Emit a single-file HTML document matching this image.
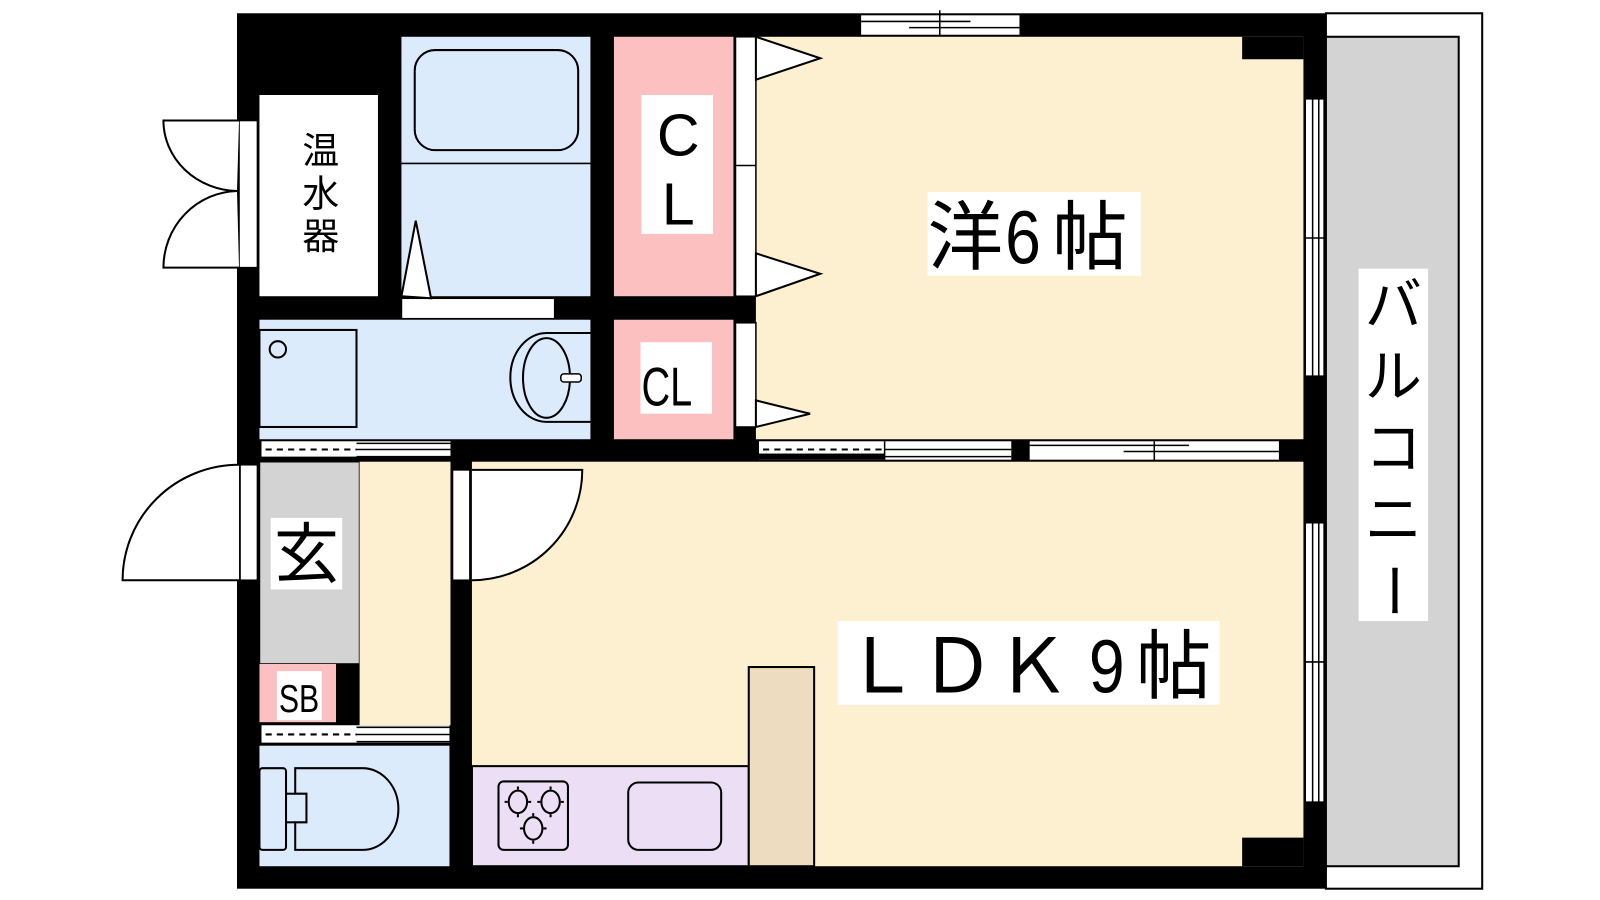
<!DOCTYPE html>
<html><head><meta charset="utf-8"><style>
html,body{margin:0;padding:0;background:#fff;}
svg{display:block;}
text{font-family:"Liberation Sans","Noto Sans CJK JP",sans-serif;}
.jp{font-family:"Noto Sans CJK JP","Liberation Sans",sans-serif;}
</style></head><body>
<svg width="1600" height="900" viewBox="0 0 1600 900" xmlns="http://www.w3.org/2000/svg">
<rect width="1600" height="900" fill="#fff"/>
<g transform="scale(1.0215)">
<!-- balcony -->
<rect x="1298" y="13" width="153" height="857" fill="#fff" stroke="#000" stroke-width="2"/>
<rect x="1298" y="36" width="130" height="812" fill="#d3d3d3" stroke="#000" stroke-width="2"/>
<rect x="1330" y="263" width="68" height="345" fill="#fff"/>
<text class="jp" font-size="56" text-anchor="middle" x="1364" y="318">バ</text>
<text class="jp" font-size="56" text-anchor="middle" x="1364" y="388">ル</text>
<text class="jp" font-size="56" text-anchor="middle" x="1364" y="458">コ</text>
<text class="jp" font-size="56" text-anchor="middle" x="1364" y="528">ニ</text>
<text class="jp" font-size="56" text-anchor="middle" x="1364" y="598" transform="rotate(90 1364 578)">ー</text>

<!-- outer walls -->
<rect x="232" y="13" width="1066" height="857" fill="#000"/>

<!-- top window -->
<rect x="843" y="15" width="155" height="19" fill="#fff"/>
<line x1="843" y1="21" x2="950" y2="21" stroke="#000" stroke-width="1.5"/>
<line x1="890" y1="27" x2="998" y2="27" stroke="#000" stroke-width="1.5"/>
<line x1="920" y1="10" x2="920" y2="45" stroke="#000" stroke-width="1.5"/>

<!-- right wall windows -->
<rect x="1278" y="97" width="18" height="271" fill="#fff" stroke="#000" stroke-width="1"/>
<line x1="1285" y1="97" x2="1285" y2="368" stroke="#000" stroke-width="1.5"/>
<line x1="1291" y1="97" x2="1291" y2="368" stroke="#000" stroke-width="1.5"/>
<line x1="1278" y1="233" x2="1298" y2="233" stroke="#000" stroke-width="1.5"/>
<rect x="1278" y="512" width="18" height="273" fill="#fff" stroke="#000" stroke-width="1"/>
<line x1="1285" y1="512" x2="1285" y2="785" stroke="#000" stroke-width="1.5"/>
<line x1="1291" y1="512" x2="1291" y2="785" stroke="#000" stroke-width="1.5"/>
<line x1="1278" y1="648" x2="1298" y2="648" stroke="#000" stroke-width="1.5"/>

<!-- 洋室 -->
<rect x="740" y="36" width="536" height="394" fill="#fdf0d0"/>
<rect x="1216" y="36" width="60" height="22" fill="#000"/>
<rect x="908" y="188" width="209" height="82" fill="#fff"/>
<text class="jp" font-size="74" x="908" y="258">洋</text>
<text font-size="74" x="984" y="258" transform="scale(0.85 1)" transform-origin="984 258">6</text>
<text class="jp" font-size="74" x="1030" y="258">帖</text>

<!-- water heater -->
<rect x="254" y="93" width="116" height="197" fill="#fff"/>
<text class="jp" font-size="36" text-anchor="middle" x="314" y="160">温</text>
<text class="jp" font-size="36" text-anchor="middle" x="314" y="202">水</text>
<text class="jp" font-size="36" text-anchor="middle" x="314" y="244">器</text>
<rect x="234" y="118" width="18" height="144" fill="#fff" stroke="#000" stroke-width="1.5"/>
<path d="M234,118 L160,118 A74,69 0 0 0 232,187" fill="#fff" stroke="#000" stroke-width="2"/>
<path d="M234,262 L160,262 A74,75 0 0 1 232,187" fill="#fff" stroke="#000" stroke-width="2"/>

<!-- bath -->
<rect x="393" y="36" width="185" height="254" fill="#dcebfc"/>
<line x1="393" y1="160" x2="578" y2="160" stroke="#000" stroke-width="1.5"/>
<rect x="406" y="49" width="160" height="98" rx="20" fill="none" stroke="#000" stroke-width="2"/>
<rect x="393" y="292" width="150" height="20" fill="#fff" stroke="#000" stroke-width="1.5"/>
<polygon points="393,290 407,216 422,292" fill="#fff" stroke="#000" stroke-width="2"/>

<!-- CL1 -->
<rect x="601" y="36" width="117" height="254" fill="#fdc0c0"/>
<rect x="628" y="93" width="70" height="136" fill="#fff"/>
<text font-size="58" text-anchor="middle" x="664" y="152">C</text>
<text font-size="58" text-anchor="middle" x="664" y="220">L</text>
<rect x="720" y="36" width="20" height="254" fill="#fff" stroke="#000" stroke-width="1.5"/>
<line x1="720" y1="162" x2="740" y2="162" stroke="#000" stroke-width="1.5"/>
<polygon points="740,36 803,57 740,78" fill="#fff" stroke="#000" stroke-width="2"/>
<polygon points="740,248 803,268 740,290" fill="#fff" stroke="#000" stroke-width="2"/>

<!-- CL2 -->
<rect x="601" y="313" width="117" height="117" fill="#fdc0c0"/>
<rect x="627" y="335" width="70" height="70" fill="#fff"/>
<text font-size="54" x="628" y="397" transform="scale(0.72 1)" transform-origin="628 397">CL</text>
<rect x="720" y="316" width="20" height="102" fill="#fff" stroke="#000" stroke-width="1.5"/>
<polygon points="740,392 793,405 740,418" fill="#fff" stroke="#000" stroke-width="2"/>

<!-- wash -->
<rect x="254" y="313" width="324" height="117" fill="#dcebfc"/>
<rect x="254" y="323" width="95" height="95" fill="none" stroke="#000" stroke-width="2"/>
<circle cx="272" cy="342" r="8" fill="none" stroke="#000" stroke-width="2"/>
<path d="M578,326 L535,326 A35,43 0 0 0 535,413 L578,413" fill="none" stroke="#000" stroke-width="2"/>
<ellipse cx="535" cy="370" rx="23" ry="39" fill="none" stroke="#000" stroke-width="2"/>
<rect x="549" y="366" width="20" height="8" rx="3" fill="#fff" stroke="#000" stroke-width="1.5"/>
<!-- sliding door below wash -->
<rect x="256" y="432" width="185" height="15" fill="#fff"/>
<line x1="260" y1="440" x2="349" y2="440" stroke="#000" stroke-width="2" stroke-dasharray="6,5"/>
<line x1="349" y1="434" x2="441" y2="434" stroke="#000" stroke-width="1.5"/>
<line x1="349" y1="440" x2="441" y2="440" stroke="#000" stroke-width="1.5"/>
<line x1="349" y1="447" x2="441" y2="447" stroke="#000" stroke-width="1.5"/>

<!-- sliding doors between 洋 and LDK -->
<rect x="743" y="432" width="247" height="18" fill="#fff"/>
<line x1="747" y1="440" x2="866" y2="440" stroke="#000" stroke-width="2" stroke-dasharray="6,5"/>
<rect x="743" y="444" width="123" height="6" fill="#000"/>
<line x1="866" y1="432" x2="866" y2="450" stroke="#000" stroke-width="1.5"/>
<line x1="866" y1="440" x2="990" y2="440" stroke="#000" stroke-width="1.5"/>
<line x1="866" y1="447" x2="990" y2="447" stroke="#000" stroke-width="1.5"/>
<rect x="1008" y="432" width="244" height="18" fill="#fff"/>
<line x1="1008" y1="436" x2="1164" y2="436" stroke="#000" stroke-width="1.5"/>
<line x1="1100" y1="442" x2="1252" y2="442" stroke="#000" stroke-width="1.5"/>
<line x1="1130" y1="432" x2="1130" y2="452" stroke="#000" stroke-width="1.5"/>

<!-- genkan -->
<rect x="254" y="452" width="98" height="198" fill="#d3d3d3" stroke="#000" stroke-width="1.5"/>
<rect x="265" y="507" width="70" height="70" fill="#fff"/>
<text class="jp" font-size="64" text-anchor="middle" x="300" y="565">玄</text>
<rect x="235" y="455" width="17" height="113" fill="#fff" stroke="#000" stroke-width="1.5"/>
<path d="M234,568 L120,568 A114,113 0 0 1 234,455" fill="#fff" stroke="#000" stroke-width="2"/>
<rect x="352" y="452" width="89" height="258" fill="#fdf0d0"/>
<rect x="254" y="650" width="75" height="57" fill="#fdc0c0"/>
<rect x="329" y="650" width="23" height="57" fill="#000"/>
<rect x="271" y="657" width="44" height="48" fill="#fff"/>
<text font-size="38" x="273" y="697" transform="scale(0.78 1)" transform-origin="273 697">SB</text>
<!-- toilet sliding -->
<rect x="256" y="710" width="184" height="17" fill="#fff"/>
<line x1="260" y1="719" x2="349" y2="719" stroke="#000" stroke-width="2" stroke-dasharray="6,5"/>
<line x1="349" y1="712" x2="440" y2="712" stroke="#000" stroke-width="1.5"/>
<line x1="349" y1="719" x2="440" y2="719" stroke="#000" stroke-width="1.5"/>
<line x1="349" y1="726" x2="440" y2="726" stroke="#000" stroke-width="1.5"/>
<!-- toilet -->
<rect x="254" y="730" width="186" height="118" fill="#dcebfc"/>
<rect x="254" y="752" width="26" height="80" rx="3" fill="none" stroke="#000" stroke-width="2"/>
<path d="M289,752 L355,752 A35,40 0 0 1 355,832 L289,832 L289,805 L300,805 L300,777 L289,777 Z" fill="none" stroke="#000" stroke-width="2"/>
<line x1="280" y1="777" x2="289" y2="777" stroke="#000" stroke-width="2"/>
<line x1="280" y1="805" x2="289" y2="805" stroke="#000" stroke-width="2"/>

<!-- LDK -->
<rect x="462" y="452" width="814" height="396" fill="#fdf0d0"/>
<rect x="1216" y="820" width="60" height="28" fill="#000"/>
<rect x="443" y="460" width="17" height="108" fill="#fff" stroke="#000" stroke-width="1.5"/>
<path d="M462,460 L570,460 A108,108 0 0 1 462,568" fill="#fff" stroke="#000" stroke-width="2"/>
<rect x="462" y="750" width="271" height="98" fill="#ecdff5" stroke="#000" stroke-width="2"/>
<rect x="488" y="765" width="68" height="67" rx="5" fill="none" stroke="#000" stroke-width="2"/>
<g fill="none" stroke="#000" stroke-width="2">
<ellipse cx="507" cy="785" rx="9" ry="11"/><ellipse cx="539" cy="785" rx="9" ry="11"/><ellipse cx="522" cy="811" rx="9" ry="11"/>
<path d="M497,785h-3M517,785h3M507,773v-3M507,797v3M529,785h-3M549,785h3M539,773v-3M539,797v3M512,811h-3M532,811h3M522,799v-3M522,823v3"/>
</g>
<rect x="615" y="766" width="91" height="66" rx="10" fill="none" stroke="#000" stroke-width="2"/>
<rect x="733" y="653" width="64" height="195" fill="#eddcc0" stroke="#000" stroke-width="2"/>
<rect x="820" y="608" width="374" height="82" fill="#fff"/>
<text class="jp" font-size="74" x="826" y="678">ＬＤＫ</text>
<text font-size="74" x="1066" y="678" transform="scale(0.85 1)" transform-origin="1066 678">9</text>
<text class="jp" font-size="74" x="1112" y="678">帖</text>
</g>
</svg>
</body></html>
